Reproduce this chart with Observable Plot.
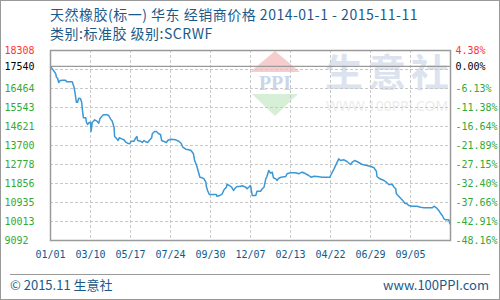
<!DOCTYPE html>
<html><head><meta charset="utf-8">
<script src="https://cdn.jsdelivr.net/npm/d3@7"></script>
<script src="https://cdn.jsdelivr.net/npm/@observablehq/plot@0.6"></script>
<style>
html,body{margin:0;padding:0;background:#fff;}
#wrap{position:relative;width:500px;height:300px;overflow:hidden;font-family:"Noto Sans CJK SC","Noto Sans",sans-serif;}
#border{position:absolute;left:0;top:0;width:500px;height:300px;box-sizing:border-box;border:1px solid #999;pointer-events:none;}
.t{position:absolute;color:#1a5a8a;font-size:13px;white-space:nowrap;line-height:1;}
#wm{position:absolute;left:0;top:0;}
#chart{position:absolute;left:0;top:0;}
#foot{position:absolute;left:10px;top:274px;width:480px;border-top:1px solid #999;}
</style></head>
<body>
<div id="wrap">
  <svg id="wm" width="500" height="300">
    <polygon points="275,51 250,72 300,72" fill="#f7cccc"/>
    <text x="275" y="90" text-anchor="middle" font-family="Liberation Serif" font-weight="bold" font-size="20" fill="#cbd6ea">PPI</text>
    <polygon points="252,94 298,94 275,116" fill="#d6efd6"/>
    <text x="325" y="86" font-family="Noto Sans CJK SC" font-weight="bold" font-size="38" textLength="124" lengthAdjust="spacing" fill="#dce3ef">生意社</text>
    <text x="326" y="111" font-family="Noto Sans" font-size="14" textLength="122" lengthAdjust="spacingAndGlyphs" fill="#ececec">WWW.100PPI.COM</text>
  </svg>
  <div id="chart"></div>
  <div class="t" style="left:50px;top:7px;font-size:14px;letter-spacing:0.5px;">天然橡胶(标一) 华东 经销商价格 2014-01-1 - 2015-11-11</div>
  <div class="t" style="left:50px;top:26px;font-size:14px;letter-spacing:0.5px;">类别:标准胶 级别:SCRWF</div>
  <div id="foot"></div>
  <div class="t" style="left:10px;top:278px;">© 2015.11 生意社</div>
  <div class="t" style="right:11px;top:278px;">www.100PPI.com</div>
  <div id="border"></div>
</div>
<script>
const startDate = "2014-01-01";
const endDate = "2015-11-12";
const dayOffsets = [0,3,6,9,10,12,14,16,20,26,27,37,40,42,44,46,48,51,53,54,56,60,61,63,65,68,69,71,73,75,79,82,84,87,90,96,99,102,105,108,109,112,115,117,121,125,128,131,135,137,142,145,147,148,153,156,159,162,165,169,172,173,177,180,184,187,189,194,197,199,204,209,213,218,222,225,230,235,239,243,245,248,250,254,258,261,264,265,267,270,275,282,283,288,292,295,299,300,304,308,311,313,317,322,326,332,334,337,340,343,349,351,357,360,363,366,368,371,374,377,379,383,385,388,392,400,402,408,417,422,425,428,434,439,443,448,453,462,475,477,482,486,490,493,499,504,510,513,517,521,530,538,545,550,554,555,560,567,571,575,581,584,587,588,592,596,600,602,606,609,615,623,629,635,649,652,656,660,663,666,669,672,677,679];
const prices = [17540,17419,17303,17177,17012,16964,16755,16837,16867,16867,16789,16789,16527,16207,15800,15800,15994,15964,15800,15479,15043,15043,14830,14718,14800,14830,14379,14830,14878,14946,14878,14781,14994,15106,15188,15188,15155,14994,14878,14587,14136,14054,13942,14073,14024,13976,13860,13811,13782,13908,13908,14073,14136,13942,13908,13845,13942,13879,13845,13976,14073,14267,14379,14379,14267,14233,13942,13879,13845,13942,14005,13991,13976,13908,13811,13617,13520,13491,13457,13297,12972,12763,12569,12162,12133,12084,11920,11711,11517,11323,11323,11323,11241,11275,11357,11551,11677,11808,11760,11677,11517,11599,11711,11711,11745,11677,11599,11677,11760,11275,11275,11483,11483,11599,11677,12084,12196,12487,12356,12405,12133,12084,12002,12114,12162,12196,12327,12375,12375,12327,12375,12405,12327,12245,12162,12211,12196,12162,12162,12293,12569,12812,13054,12972,13006,12924,12778,12890,12972,12924,12778,12730,12681,12618,12453,12196,12084,12002,11920,11808,11808,11677,11599,11357,11241,11114,10998,10901,10872,10790,10756,10756,10707,10678,10678,10756,10678,10547,10416,10305,10144,10096,10096,9902];
const xTickDates = ["2014-01-01","2014-03-10","2014-05-17","2014-07-24","2014-09-30","2014-12-07","2015-02-13","2015-04-22","2015-06-29","2015-09-05"];
const xTickLabels = ["01/01","03/10","05/17","07/24","09/30","12/07","02/13","04/22","06/29","09/05"];
const yMin = 9092, yMax = 18308, baseValue = 17540;
const yGridValues = [10013.6,10935.2,11856.8,12778.4,13700,14621.6,15543.2,16464.8,17386.4];
const yLabelValues = [9092,10013,10935,11856,12778,13700,14621,15543,16464,17540,18308];
const leftLabels = ["9092","10013","10935","11856","12778","13700","14621","15543","16464","17540","18308"];
const rightLabels = ["-48.16%","-42.91%","-37.66%","-32.40%","-27.15%","-21.89%","-16.64%","-11.38%","-6.13%","0.00%","4.38%"];

const parse = d3.utcParse("%Y-%m-%d");
const t0 = parse(startDate);
const data = dayOffsets.map((d, i) => ({date: d3.utcDay.offset(t0, d), price: prices[i]}));
const xTicks = xTickDates.map(parse);
const labelColor = v => v === yMax ? "#ff3333" : v === baseValue ? "#000" : "#33aa33";
const yLabels = yLabelValues.map((v, i) => ({v, left: leftLabels[i], right: rightLabels[i], c: labelColor(v)}));
const mono = "DejaVu Sans Mono";

const chart = Plot.plot({
  width: 500, height: 272,
  marginTop: 50, marginBottom: 32, marginLeft: 50, marginRight: 50,
  style: {background: "transparent", overflow: "visible"},
  x: {type: "utc", domain: [t0, parse(endDate)], axis: null},
  y: {domain: [yMin, yMax], axis: null},
  marks: [
    Plot.ruleY(yGridValues, {stroke: "#c8c8c8", strokeDasharray: "3,2", strokeWidth: 1}),
    Plot.ruleX(xTicks.slice(1), {stroke: "#c8c8c8", strokeDasharray: "3,2", strokeWidth: 1}),
    Plot.ruleY([baseValue], {stroke: "#9a9a9a", strokeWidth: 1.2}),
    Plot.lineY(data, {x: "date", y: "price", stroke: "#3a98d6", strokeWidth: 1.5}),
    Plot.frame({stroke: "#9a9a9a", strokeWidth: 1.5}),
    Plot.text(yLabels, {y: "v", text: "left", frameAnchor: "left", textAnchor: "start", dx: -46, fill: "c", fontFamily: mono, fontSize: 10}),
    Plot.text(yLabels, {y: "v", text: "right", frameAnchor: "right", textAnchor: "start", dx: 5, fill: "c", fontFamily: mono, fontSize: 10}),
    Plot.text(xTicks, {x: d => d, text: (d, i) => xTickLabels[i], frameAnchor: "bottom", dy: 17, fill: "#0e5a8a", fontFamily: mono, fontSize: 10})
  ]
});
document.getElementById("chart").appendChild(chart);
</script>
</body></html>
